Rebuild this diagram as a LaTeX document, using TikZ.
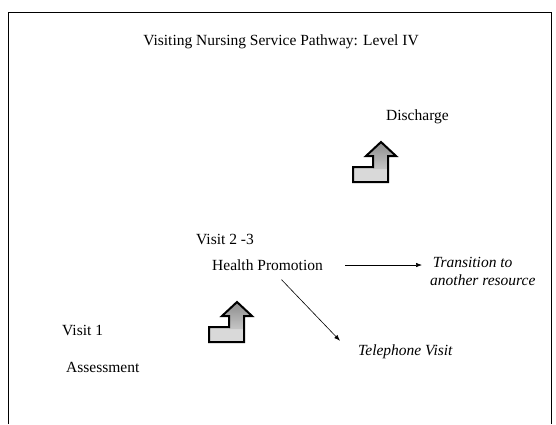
\documentclass[tikz,border=0pt]{standalone}
\usepackage{fontspec}
\setmainfont{Liberation Serif}
\usepackage{tikz}
\usetikzlibrary{arrows.meta, positioning, calc}
\tikzset{
  lbl/.style={anchor=west, inner sep=0pt, font=\fontsize{15.5}{18}\selectfont},
  note/.style={lbl, font=\fontsize{15.5}{18}\selectfont\itshape, align=left},
  arr/.style={-{Latex[length=6pt,width=4.5pt]}, line width=0.6pt},
  frame/.style={line width=0.8pt},
  % bent arrow pointing up, origin at the bottom right of its foot
  uparrow/.pic={
    \fill[gray!30] (-35,0) rectangle (0,-15);
    \shade[top color=gray!90, bottom color=gray!45]
      (0,-13) -- (0,-26) -- (8,-26) -- (-7,-40) -- (-22,-26) -- (-15,-26) -- (-15,-13) -- cycle;
    \draw[line width=2pt, line join=miter]
      (-35,0) -- (0,0) -- (0,-26) -- (8,-26) -- (-7,-40) -- (-22,-26)
      -- (-15,-26) -- (-15,-15) -- (-35,-15) -- cycle;
  }
}

\begin{document}
\begin{tikzpicture}[x=1pt, y=-1pt]
  \useasboundingbox (0,0) rectangle (556,424);
  \draw[frame] (8,424) -- (8,12) -- (551,12) -- (551,424);

  \node[lbl, anchor=center] (title) at (281,42) {Visiting Nursing Service Pathway: Level IV};

  \node[lbl] (discharge) at (386,117) {Discharge};
  \pic at (388,182) {uparrow};

  \node[lbl] (visit23) at (196,239) {Visit 2 -3};
  \node[lbl] (promo) at (212,265) {Health Promotion};
  \node[note] (trans) at (430,271) {\,Transition to\\another resource};
  \node[note] (phone) at (358,352) {Telephone Visit};

  \node[lbl] (visit1) at (62,330) {Visit 1};
  \node[lbl] (assess) at (66,367) {Assessment};
  \pic at (244,342) {uparrow};

  \draw[arr, shorten <=22pt, shorten >=8pt] (promo.east) -- (promo.east -| trans.west);
  \draw[arr] ([xshift=14pt,yshift=-9pt]promo.south) -- ([xshift=-18pt,yshift=4pt]phone.north west);
\end{tikzpicture}
\end{document}
